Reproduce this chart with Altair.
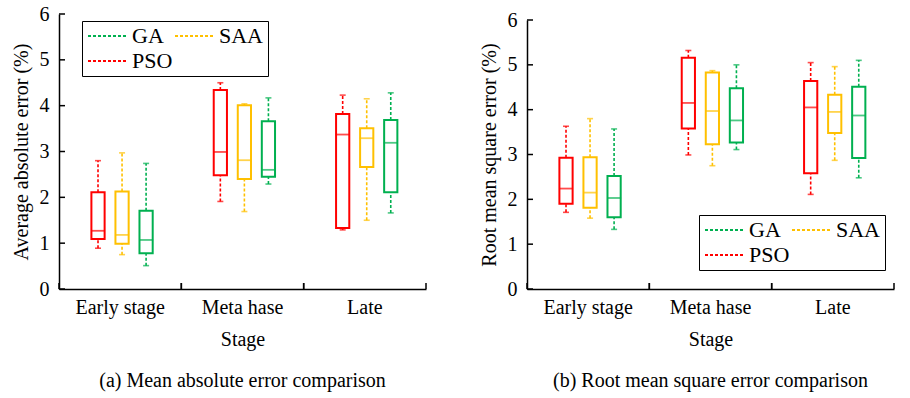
import altair as alt
import pandas as pd

stages = ["Early stage", "Meta hase", "Late"]
methods = ["PSO", "SAA", "GA"]          # order of boxes inside each stage
legend_order = ["GA", "SAA", "PSO"]
legend_colors = ["#00B050", "#FFC000", "#FF0000"]
y_ticks = [0, 1, 2, 3, 4, 5, 6]

# (a) mean absolute error, stage-major, methods PSO, SAA, GA
mae_min = [0.89, 0.75, 0.51, 1.91, 1.69, 2.29, 1.29, 1.50, 1.66]
mae_q1 = [1.09, 0.99, 0.78, 2.48, 2.40, 2.45, 1.33, 2.66, 2.11]
mae_med = [1.27, 1.18, 1.07, 2.99, 2.81, 2.60, 3.37, 3.29, 3.19]
mae_q3 = [2.11, 2.13, 1.71, 4.34, 4.01, 3.66, 3.82, 3.51, 3.69]
mae_max = [2.80, 2.97, 2.74, 4.50, 4.04, 4.17, 4.23, 4.15, 4.28]

# (b) root mean square error
rmse_min = [1.71, 1.58, 1.33, 2.99, 2.75, 3.11, 2.11, 2.87, 2.48]
rmse_q1 = [1.90, 1.81, 1.60, 3.58, 3.23, 3.27, 2.58, 3.48, 2.92]
rmse_med = [2.24, 2.15, 2.03, 4.15, 3.97, 3.76, 4.05, 3.95, 3.87]
rmse_q3 = [2.93, 2.94, 2.52, 5.16, 4.83, 4.48, 4.64, 4.33, 4.51]
rmse_max = [3.63, 3.80, 3.57, 5.32, 4.87, 5.00, 5.05, 4.96, 5.10]

FONT = "Liberation Serif"
W, H = 367, 275


def make_df(mins, q1s, meds, q3s, maxs):
    rows = []
    i = 0
    for s in stages:
        for m in methods:
            rows.append(dict(stage=s, method=m, lo=mins[i], q1=q1s[i],
                             med=meds[i], q3=q3s[i], hi=maxs[i]))
            i += 1
    return pd.DataFrame(rows)


def panel(df, ytitle, caption, lx, ly, yrange=None):
    xscale = alt.Scale(domain=stages, paddingInner=0, paddingOuter=0)
    x_axis = alt.Axis(title="Stage", ticks=False, labelAngle=0, labelPadding=8,
                      titlePadding=12, domainWidth=1.5)
    x = alt.X("stage:N", sort=stages, scale=xscale, axis=x_axis)
    xo = alt.XOffset("method:N", scale=alt.Scale(domain=methods, paddingInner=0.45,
                                                 paddingOuter=0, range=[32.4, 93.7]))
    if yrange is None:
        yscale = alt.Scale(domain=[0, 6], nice=False)
    else:
        yscale = alt.Scale(domain=[0, 6], nice=False, range=yrange)
    y_axis = alt.Axis(title=ytitle, ticks=False, values=y_ticks, labelPadding=10,
                      titlePadding=8, domainWidth=1.5, grid=False)
    color_scale = alt.Scale(domain=legend_order, range=legend_colors)
    legend = alt.Legend(title=None, orient="none", legendX=lx, legendY=ly, columns=2,
                        direction="horizontal",
                        symbolType="M-2,0H2", symbolDash=[3, 2], symbolStrokeWidth=2,
                        symbolSize=361, symbolOffset=10, labelFont=FONT, labelFontSize=22,
                        labelColor="black", strokeColor="black", fillColor="white",
                        padding=4, columnPadding=-6, rowPadding=3, labelOffset=14,
                        labelExpr="datum.label == 'SAA' ? datum.label + '   ' : datum.label")
    col = alt.Color("method:N", scale=color_scale, legend=legend)
    col_nl = alt.Color("method:N", scale=color_scale, legend=None)

    def Y(f):
        return alt.Y(f, scale=yscale, axis=y_axis)

    base = alt.Chart(df)
    whisk_hi = base.mark_rule(strokeDash=[3, 2], strokeWidth=1.6).encode(
        x=x, xOffset=xo, y=Y("q3:Q"), y2="hi:Q", color=col)
    whisk_lo = base.mark_rule(strokeDash=[3, 2], strokeWidth=1.6).encode(
        x=x, xOffset=xo, y=Y("lo:Q"), y2="q1:Q", color=col_nl)
    box = base.mark_bar(filled=False, fill="white", strokeWidth=2).encode(
        x=x, xOffset=xo, y=Y("q1:Q"), y2="q3:Q", color=col_nl)
    med = base.mark_tick(size=14, thickness=1.8).encode(
        x=x, xOffset=xo, y=Y("med:Q"), color=col_nl)
    cap_hi = base.mark_tick(size=6, thickness=1.6).encode(
        x=x, xOffset=xo, y=Y("hi:Q"), color=col_nl)
    cap_lo = base.mark_tick(size=6, thickness=1.6).encode(
        x=x, xOffset=xo, y=Y("lo:Q"), color=col_nl)

    ytick_df = pd.DataFrame({"v": y_ticks})
    yt = alt.Chart(ytick_df).mark_rule(color="black", strokeWidth=1.5).encode(
        y=Y("v:Q"), x=alt.value(0), x2=alt.value(6))
    xtick_df = pd.DataFrame({"stage": stages})
    xt0 = alt.Chart(xtick_df).mark_rule(color="black", strokeWidth=1.5).encode(
        x=alt.X("stage:N", sort=stages, scale=xscale, axis=x_axis, bandPosition=0),
        y=alt.value(H), y2=alt.value(H - 6))
    xt1 = alt.Chart(xtick_df).mark_rule(color="black", strokeWidth=1.5).encode(
        x=alt.X("stage:N", sort=stages, scale=xscale, axis=x_axis, bandPosition=1),
        y=alt.value(H), y2=alt.value(H - 6))

    return alt.layer(whisk_hi, whisk_lo, box, med, cap_hi, cap_lo, yt, xt0, xt1).properties(
        width=W, height=H,
        title=alt.TitleParams(caption, orient="bottom", anchor="middle", font=FONT,
                              fontSize=20, fontWeight="normal", color="black", offset=22))


left = panel(make_df(mae_min, mae_q1, mae_med, mae_q3, mae_max),
             "Average absolute error (%)", "(a) Mean absolute error comparison", 23, 7)
right = panel(make_df(rmse_min, rmse_q1, rmse_med, rmse_q3, rmse_max),
              "Root mean square error (%)", "(b) Root mean square error comparison",
              172, 201, yrange=[H, 6])

chart = alt.hconcat(left, right, spacing=50).resolve_scale(
    color="independent", y="independent", x="independent", xOffset="independent"
).resolve_legend(color="independent").configure(
    font=FONT, padding={"left": 10, "top": 3, "right": 5, "bottom": 5}
).configure_axis(
    labelFont=FONT, labelFontSize=20, labelColor="black", titleFont=FONT,
    titleFontSize=20, titleFontWeight="normal", titleColor="black", domainColor="black"
).configure_view(stroke="transparent")

chart.save("out.html", embed_options={"renderer": "svg", "actions": False})
